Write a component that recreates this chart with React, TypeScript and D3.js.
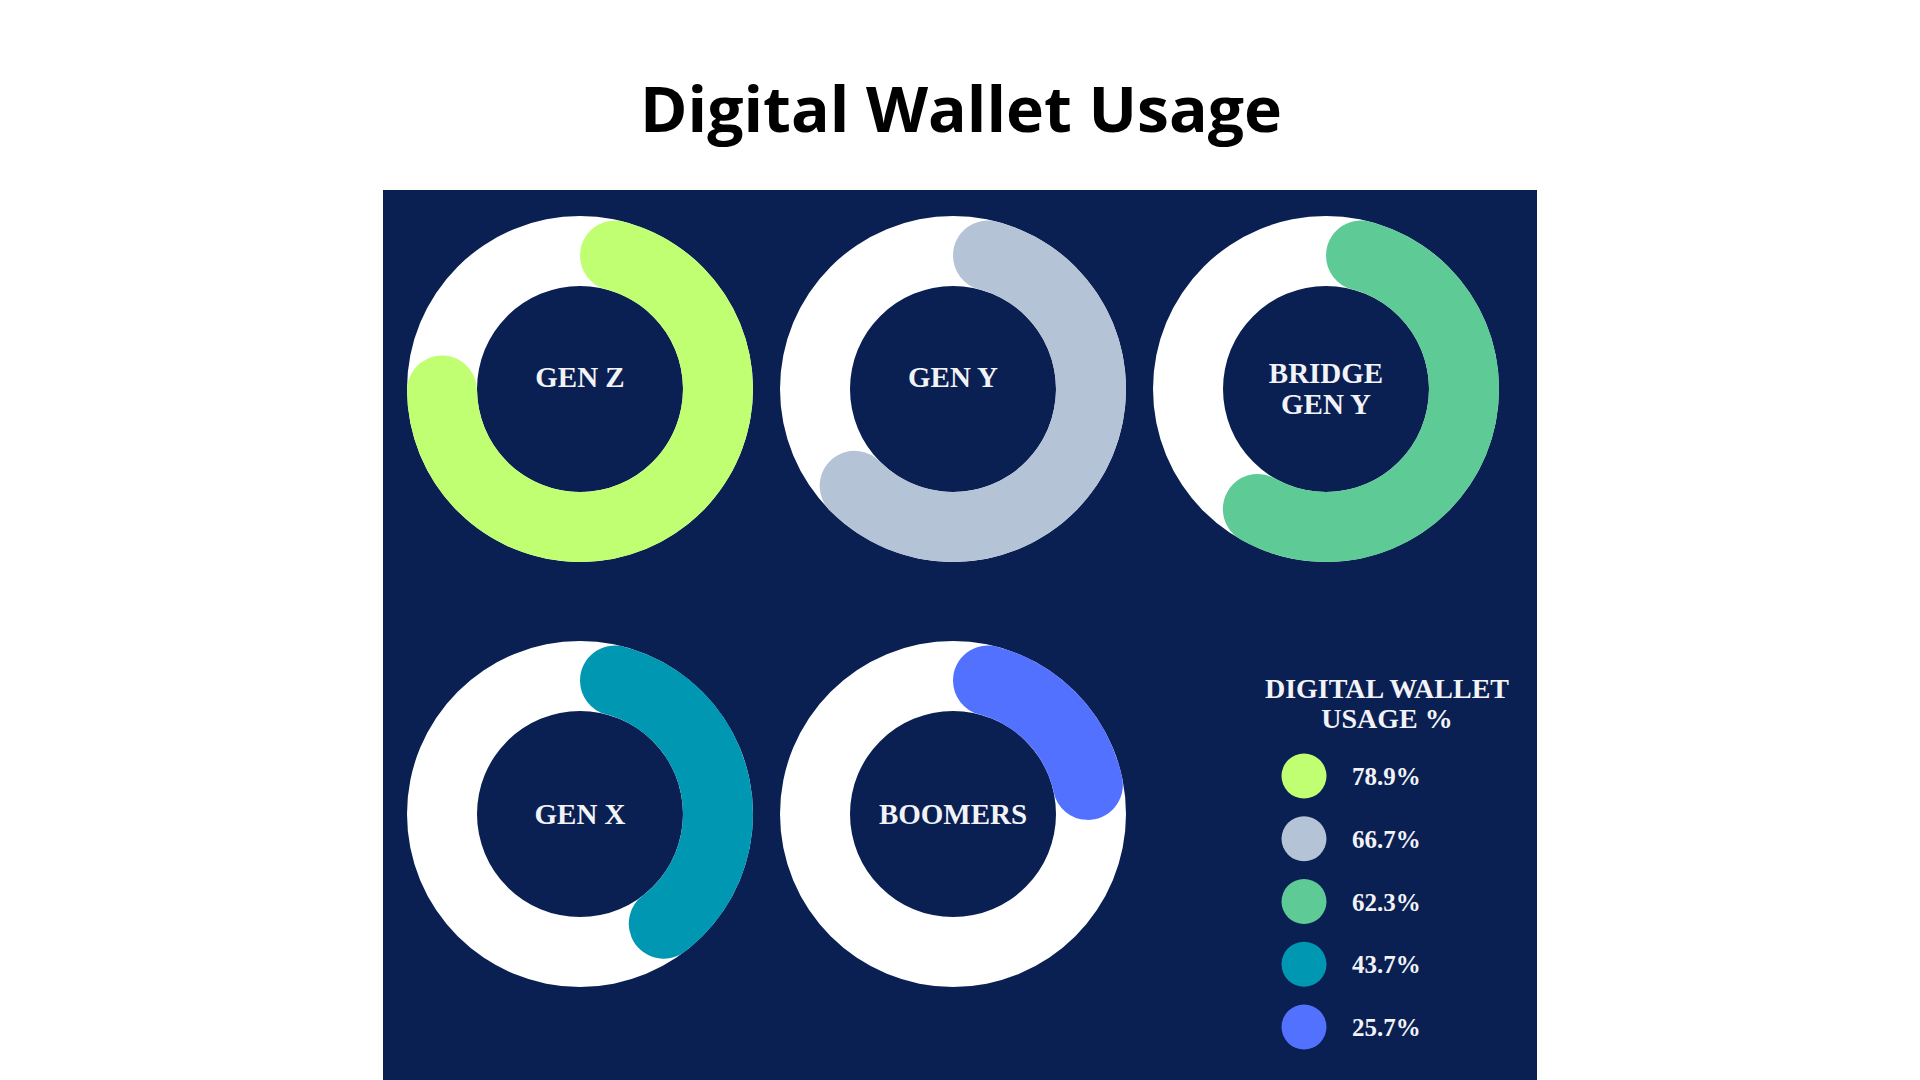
import React from 'react';
import * as d3 from 'd3';

// values
const generations = ['GEN Z', 'GEN Y', 'BRIDGE GEN Y', 'GEN X', 'BOOMERS'];
const labelLines = [['GEN Z'], ['GEN Y'], ['BRIDGE', 'GEN Y'], ['GEN X'], ['BOOMERS']];
const usage = [78.9, 66.7, 62.3, 43.7, 25.7];
const colors = ['#c1ff72', '#b4c3d6', '#5ecb96', '#0097b2', '#5271ff'];
const gridCol = [0, 1, 2, 0, 1];
const gridRow = [0, 0, 0, 1, 1];
const legendTitle = ['DIGITAL WALLET', 'USAGE %'];

const W = 1920;
const H = 1080;
const NAVY = '#0a1f52';
const SERIF = '"Liberation Serif", "Times New Roman", serif';

const App: React.FC = () => {
  const x = d3.scalePoint<number>().domain([0, 1, 2]).range([580, 1326]);
  const y = d3.scalePoint<number>().domain([0, 1]).range([389, 814]);
  const angle = d3.scaleLinear().domain([0, 100]).range([0, 2 * Math.PI]);
  const legendY = d3.scalePoint<number>().domain(d3.range(usage.length)).range([776, 1027]);

  const ring = d3.arc<any>().innerRadius(103).outerRadius(173);
  const bar = d3.arc<any>().innerRadius(103).outerRadius(173).cornerRadius(35);

  return (
    <div style={{ position: 'absolute', left: 0, top: 0, width: W, height: H, background: '#fff' }}>
      <svg width={W} height={H} viewBox={`0 0 ${W} ${H}`} style={{ display: 'block' }}>
        <text
          x={961}
          y={132}
          textAnchor="middle"
          fontFamily='"Open Sans", Roboto, sans-serif'
          fontWeight={700}
          fontSize={63}
          textLength={642}
          lengthAdjust="spacingAndGlyphs"
          fill="#000"
        >
          Digital Wallet Usage
        </text>

        <rect x={383} y={190} width={1537 - 383} height={H - 190} fill={NAVY} />

        {generations.map((g, i) => {
          const cx = x(gridCol[i])!;
          const cy = y(gridRow[i])!;
          const lines = labelLines[i];
          const base = lines.length > 1 ? -6 : gridRow[i] === 0 ? -2 : 10;
          return (
            <g key={g} transform={`translate(${cx},${cy})`}>
              <path d={ring({ startAngle: 0, endAngle: 2 * Math.PI })!} fill="#ffffff" />
              <path d={bar({ startAngle: 0, endAngle: angle(usage[i]) })!} fill={colors[i]} />
              <text
                y={base}
                textAnchor="middle"
                fontFamily={SERIF}
                fontWeight={700}
                fontSize={29}
                fill="#f2f3f7"
              >
                {lines.map((t, j) => (
                  <tspan key={t} x={0} dy={j === 0 ? 0 : 31}>
                    {t}
                  </tspan>
                ))}
              </text>
            </g>
          );
        })}

        <text
          y={698}
          textAnchor="middle"
          fontFamily={SERIF}
          fontWeight={700}
          fontSize={28}
          fill="#f2f3f7"
        >
          {legendTitle.map((t, j) => (
            <tspan key={t} x={1387} dy={j === 0 ? 0 : 30}>
              {t}
            </tspan>
          ))}
        </text>

        {usage.map((v, i) => (
          <g key={generations[i] + '-legend'} transform={`translate(0,${legendY(i)})`}>
            <circle cx={1304} cy={0} r={22.5} fill={colors[i]} />
            <text x={1352} y={9} fontFamily={SERIF} fontWeight={700} fontSize={25} fill="#f2f3f7">
              {v.toFixed(1)}%
            </text>
          </g>
        ))}
      </svg>
    </div>
  );
};

export default App;
